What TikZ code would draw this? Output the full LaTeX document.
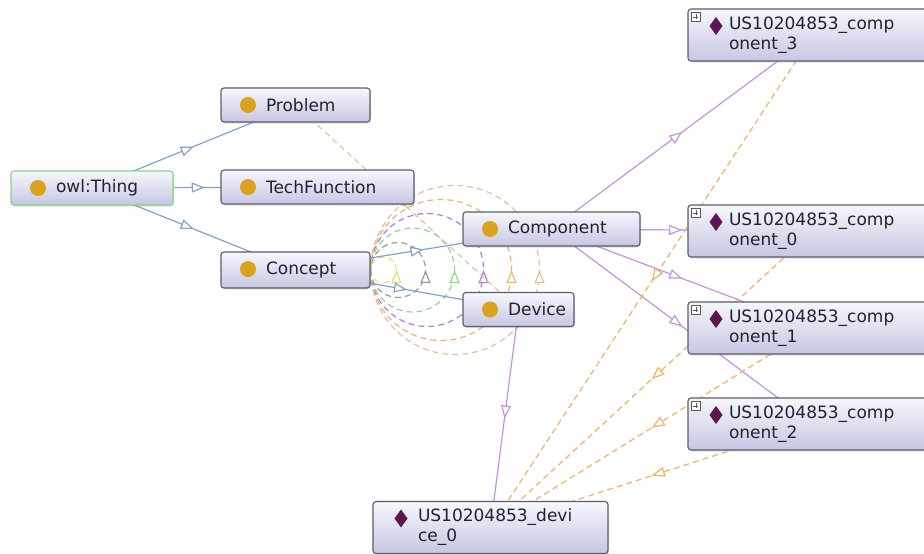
\documentclass[tikz,border=0pt]{standalone}
\usepackage{fontspec}
\setmainfont{DejaVu Sans}
\usetikzlibrary{arrows.meta,decorations.markings,backgrounds,shadows}

\definecolor{boxline}{HTML}{5C5C6E}
\definecolor{boxtop}{HTML}{F7F7FD}
\definecolor{boxbot}{HTML}{C6C6E2}
\definecolor{thingline}{HTML}{86D486}
\definecolor{dotc}{HTML}{D9A21F}
\definecolor{diac}{HTML}{5E1552}
\definecolor{txtc}{HTML}{22222E}
\definecolor{isac}{HTML}{7FA3CC}
\definecolor{instc}{HTML}{C592E0}
\definecolor{propc}{HTML}{F2B062}
\definecolor{probc}{HTML}{DCC3A4}
\definecolor{yelc}{HTML}{E9E27A}
\definecolor{greyc}{HTML}{9A9A9A}
\definecolor{greenc}{HTML}{8CD88C}
\definecolor{purc}{HTML}{B77BDC}
\definecolor{orc}{HTML}{F3B270}
\definecolor{tanc}{HTML}{E9BE98}

% left padding in front of a label (room for the icon)
\newcommand{\lpad}[1][39pt]{\hspace*{#1}}

\begin{document}
\begin{tikzpicture}[
  x=1pt, y=-1pt,
  font=\fontsize{17}{20}\selectfont,
  midarrow/.style={postaction={decorate}, decoration={markings,
      mark=at position 0.5 with {\arrow{Triangle[length=13pt,width=10pt,fill=white]}}}},
  cls/.style={draw=boxline, line width=1.1pt, rounded corners=3pt,
    top color=boxtop, bottom color=boxbot, minimum height=34pt,
    inner xsep=6pt, align=left, text=txtc,
    drop shadow={shadow xshift=1pt, shadow yshift=-1.5pt, opacity=0.25},
    path picture={\fill[dotc] ([shift={(27,17)}]path picture bounding box.north west) circle (8);}},
  ind/.style={cls, minimum height=52pt,
    path picture={\fill[diac, sharp corners] ([shift={(28,8)}]path picture bounding box.north west)
      -- ++(6.5,9) -- ++(-6.5,9) -- ++(-6.5,-9) -- cycle;}},
  plusbox/.style={draw=black!65, fill=white, line width=0.5pt, sharp corners},
  isa/.style={draw=isac, line width=1.2pt, midarrow},
  inst/.style={draw=instc, line width=1.2pt, midarrow},
  prop/.style={draw=propc, line width=1.2pt, dash pattern=on 6pt off 4pt, midarrow},
  loopc/.style={line width=1.2pt, dash pattern=on 6pt off 4pt, midarrow}
]
\useasboundingbox (0,0) rectangle (924,554);

% classes
\node[cls, draw=thingline, text width=150pt] (thing) at (92,188) {\lpad owl:Thing};
\node[cls, text width=137pt] (problem) at (295.5,105) {\lpad Problem};
\node[cls, text width=181pt] (techfn) at (317.5,187) {\lpad TechFunction};
\node[cls, text width=137pt, minimum height=36pt] (concept) at (295.5,270) {\lpad Concept};
\node[cls, text width=165pt] (component) at (551.5,229) {\lpad Component};
\node[cls, text width=99pt] (device) at (518.5,309.5) {\lpad Device};

% individuals
\node[ind, text width=238pt] (comp3) at (813,35) {\lpad[35pt]US10204853\_comp\\\lpad[35pt]onent\_3};
\node[ind, text width=238pt] (comp0) at (813,231) {\lpad[35pt]US10204853\_comp\\\lpad[35pt]onent\_0};
\node[ind, text width=238pt] (comp1) at (813,328) {\lpad[35pt]US10204853\_comp\\\lpad[35pt]onent\_1};
\node[ind, text width=238pt] (comp2) at (813,424) {\lpad[35pt]US10204853\_comp\\\lpad[35pt]onent\_2};
\node[ind, text width=223pt] (dev0) at (490.5,527.5) {\lpad US10204853\_devi\\\lpad ce\_0};

\foreach \n in {comp3,comp0,comp1,comp2}
  \draw[plusbox] ([shift={(4,4)}]\n.north west) rectangle ++(9,9)
    ([shift={(6,8.5)}]\n.north west) -- ++(5,0)
    ([shift={(8.5,6)}]\n.north west) -- ++(0,5);

\begin{scope}[on background layer]
  \fill[white] (0,0) rectangle (924,554);
  % object properties between Concept and Component/Device
  \foreach \r/\c in {13/yelc, 27.5/greyc, 42/greenc, 56.5/purc, 70.5/orc, 84.5/tanc}
    \draw[loopc, draw=\c] (concept.east) arc[start angle=180, end angle=-180, radius=\r];
  \draw[prop, draw=probc] (problem.center) -- (device.center);
  % subclass edges
  \draw[isa] (thing.center) -- (problem.center);
  \draw[isa] (thing.center) -- (techfn.center);
  \draw[isa] (thing.center) -- (concept.center);
  \draw[isa] (concept.center) -- (component.center);
  \draw[isa] (concept.center) -- (device.center);
  % instances
  \draw[inst] (component.center) -- (comp3.center);
  \draw[inst] (component.center) -- (comp0.center);
  \draw[inst] (component.center) -- (comp1.center);
  \draw[inst] (component.center) -- (comp2.center);
  \draw[inst] (device.center) -- (dev0.center);
  % assertions
  \draw[prop] (comp3.center) -- (dev0.center);
  \draw[prop] (comp0.center) -- (dev0.center);
  \draw[prop] (comp1.center) -- (dev0.center);
  \draw[prop] (comp2.center) -- (dev0.center);
\end{scope}
\end{tikzpicture}
\end{document}
